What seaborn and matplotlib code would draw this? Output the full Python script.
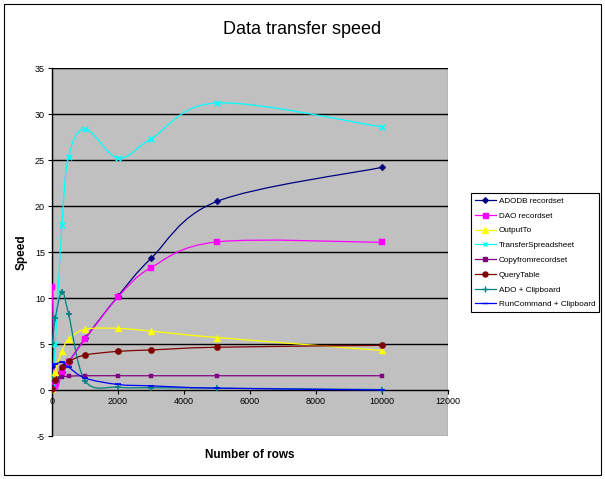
import numpy as np
import pandas as pd
import matplotlib
matplotlib.use("Agg")
import matplotlib.pyplot as plt
from matplotlib.path import Path
from matplotlib.patches import PathPatch, Rectangle
from matplotlib.lines import Line2D
import seaborn as sns

# data
rows = [10, 100, 300, 500, 1000, 2000, 3000, 5000, 10000]
adodb = [2.6, 1.0, 2.0, 3.0, 5.6, 10.2, 14.3, 20.5, 24.2]
dao = [11.2, 0.6, 1.8, 3.0, 5.5, 10.1, 13.3, 16.1, 16.05]
output_to = [0.1, 2.0, 4.2, 5.5, 6.6, 6.7, 6.4, 5.7, 4.3]
transfer = [0.3, 5.0, 17.9, 25.3, 28.4, 25.2, 27.3, 31.2, 28.6]
copyfrom = [0.3, 1.0, 1.4, 1.5, 1.55, 1.55, 1.55, 1.55, 1.55]
querytable = [0.1, 1.1, 2.5, 3.1, 3.8, 4.2, 4.35, 4.65, 4.85]
ado_clip = [5.1, 7.8, 10.7, 8.3, 1.0, 0.3, 0.25, 0.2, 0.05]
runcmd_clip = [2.6, 2.8, 3.0, 2.5, 1.3, 0.6, 0.45, 0.2, 0.0]

series_names = ["ADODB recordset", "DAO recordset", "OutputTo", "TransferSpreadsheet",
                "Copyfromrecordset", "QueryTable", "ADO + Clipboard", "RunCommand + Clipboard"]
series_values = [adodb, dao, output_to, transfer, copyfrom, querytable, ado_clip, runcmd_clip]
colors = ["#000080", "#FF00FF", "#FFFF00", "#00FFFF", "#800080", "#800000", "#008080", "#0000FF"]
markers = ["D", "s", "^", "x", "s", "o", "+", "_"]
msizes = [3.5, 4.5, 5, 4, 3.5, 4.5, 5, 5]

df = pd.DataFrame({
    "rows": np.tile(rows, len(series_names)),
    "speed": np.concatenate(series_values),
    "series": np.repeat(series_names, len(rows)),
})

plt.rcParams["font.family"] = ["Liberation Sans", "DejaVu Sans"]
plt.rcParams["axes.unicode_minus"] = False

fig = plt.figure(figsize=(6.05, 4.79), dpi=100)
W, H = 605, 479
ax = fig.add_axes([52 / W, 1 - 436 / H, (448 - 52) / W, (436 - 68) / H])
ax.set_facecolor("#C0C0C0")
ax.set_xlim(0, 12000)
ax.set_ylim(-5, 35)


def smooth_path(xs, ys):
    # excel-like smoothed line: cubic bezier through the points
    p = np.column_stack([xs, ys]).astype(float)
    n = len(p)
    verts = [p[0]]
    codes = [Path.MOVETO]
    for i in range(n - 1):
        a = p[max(i - 1, 0)]
        b = p[min(i + 2, n - 1)]
        c1 = p[i] + (p[i + 1] - a) / 6
        c2 = p[i + 1] - (b - p[i]) / 6
        verts += [c1, c2, p[i + 1]]
        codes += [Path.CURVE4] * 3
    return Path(verts, codes)


for vals, col in zip(series_values, colors):
    ax.add_patch(PathPatch(smooth_path(rows, vals), facecolor="none",
                           edgecolor=col, lw=0.9, zorder=3))

for name, col, mk, ms in zip(series_names, colors, markers, msizes):
    sub = df[df["series"] == name]
    sns.scatterplot(data=sub, x="rows", y="speed", ax=ax, color=col, marker=mk,
                    s=ms ** 2, edgecolor=col, linewidth=1.2 if mk in "x+_" else 0.3,
                    zorder=4, legend=False)

ax.set_xlabel("")
ax.set_ylabel("")

yt = np.arange(-5, 36, 5)
ax.set_yticks(yt)
ax.set_xticks(np.arange(0, 12001, 2000))
for v in yt:
    if v > 0:
        ax.axhline(v, color="black", lw=1.0, zorder=1)

for s in ["top", "right"]:
    ax.spines[s].set_visible(False)
ax.spines["bottom"].set_position(("data", 0))
ax.spines["bottom"].set_color("black")
ax.spines["bottom"].set_linewidth(1.0)
ax.spines["left"].set_linewidth(1.0)
ax.add_patch(Rectangle((0, 0), 1, 1, transform=ax.transAxes, fill=False,
                       edgecolor="#808080", lw=1.0, zorder=0.5))
ax.tick_params(axis="both", direction="out", length=3, width=0.8, labelsize=6.5,
               pad=2, colors="black")

fig.text(0.5, 1 - 30 / H, "Data transfer speed", ha="center", va="center", fontsize=13)
fig.text(22 / W, 1 - 252 / H, "Speed", ha="center", va="center", rotation=90,
         fontsize=8.5, fontweight="bold")
fig.text(250 / W, 1 - 455 / H, "Number of rows", ha="center", va="center",
         fontsize=8.5, fontweight="bold")

handles = [Line2D([], [], color=c, marker=m, markersize=ms * 0.8, lw=0.9,
                  markerfacecolor=c, markeredgecolor=c)
           for c, m, ms in zip(colors, markers, msizes)]
leg = fig.legend(handles, series_names, loc="upper left",
                 bbox_to_anchor=(471 / W, 1 - 193 / H), fontsize=5.9,
                 frameon=True, fancybox=False, edgecolor="black", framealpha=1,
                 handlelength=2.5, handletextpad=0.4, labelspacing=0.86,
                 borderpad=0.5, borderaxespad=0)
leg.get_frame().set_linewidth(0.8)

fig.patches.append(Rectangle((4 / W, 4 / H), 597 / W, 471 / H, transform=fig.transFigure,
                             fill=False, edgecolor="black", lw=0.8))

fig.savefig("out.png", dpi=100)
